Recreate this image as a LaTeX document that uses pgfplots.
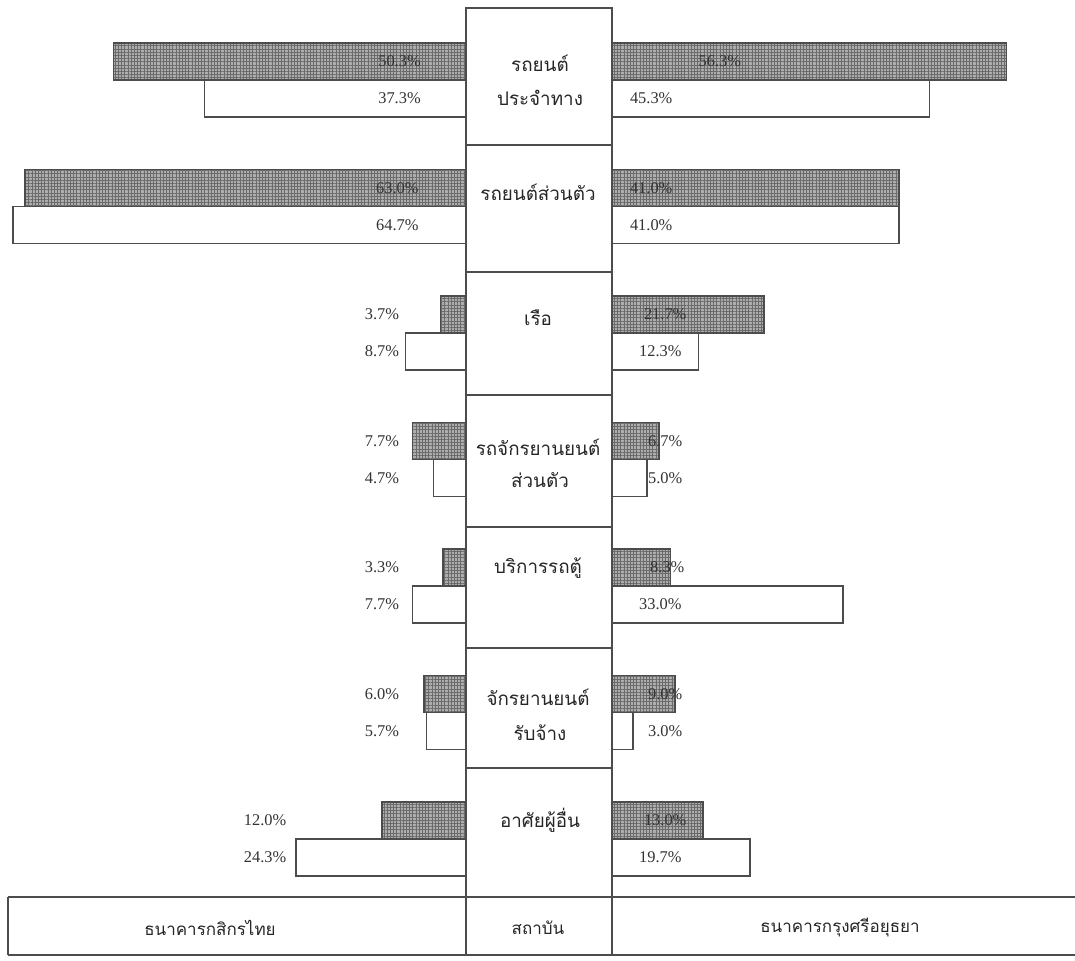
\documentclass[border=0pt]{standalone}
\usepackage{fontspec}
\setmainfont{Liberation Serif}
\newfontfamily\thaifont[Script=Thai]{Loma}
\usepackage{pgfplots}
\pgfplotsset{compat=1.18}
\usepackage{pgfplotstable}
\usetikzlibrary{patterns.meta}

% left institution (Kasikorn): s = shaded bar, w = white bar, lx = label position
\pgfplotstableread{
i s w lx
1 50.3 37.3 9.5
2 63.0 64.7 9.8
3 3.7 8.7 12
4 7.7 4.7 12
5 3.3 7.7 12
6 6.0 5.7 12
7 12.0 24.3 28.7
}\leftdata
% right institution (Krungsri)
\pgfplotstableread{
i s w lxs lxw
1 56.3 45.3 15.4 5.6
2 41.0 41.0 5.6 5.6
3 21.7 12.3 7.6 6.9
4 6.7 5.0 7.6 7.6
5 8.3 33.0 7.9 6.9
6 9.0 3.0 7.6 7.6
7 13.0 19.7 7.6 6.9
}\rightdata

\pgfplotsset{
  shaded/.style={xbar, bar width=0.2925, bar shift=-0.146, fill=black!32, draw=black!70, line width=0.6pt,
    postaction={pattern={Lines[angle=0,distance=1.6pt,line width=0.45pt]}, pattern color=black!58},
    postaction={pattern={Lines[angle=90,distance=1.6pt,line width=0.45pt]}, pattern color=black!58}},
  plain/.style={xbar, bar width=0.2925, bar shift=0.146, fill=white, draw=black!70, line width=0.6pt},
  lab/.style={draw=none, mark=none, point meta=explicit,
    nodes near coords={\pgfmathprintnumber[fixed,fixed zerofill,precision=1,assume math mode=true]{\pgfplotspointmeta}\%},
    every node near coord/.append style={anchor=center, font=\fontsize{8.2}{10}\selectfont, text=black!80, inner sep=0pt}},
  half/.style={scale only axis, height=480.5pt, y dir=reverse, ymin=0.3676, ymax=7.9644, hide axis, clip=false, xmin=0}
}

\begin{document}
\begin{tikzpicture}
\useasboundingbox (0pt,0pt) rectangle (537.5pt,-480.5pt);
\fill[white] (0pt,0pt) rectangle (537.5pt,-480.5pt);

\begin{axis}[half, at={(0pt,0pt)}, anchor=north west, width=233pt, xmax=66.571, x dir=reverse]
  \addplot[shaded] table[x=s, y=i] {\leftdata};
  \addplot[plain] table[x=w, y=i] {\leftdata};
  \addplot[lab] table[x=lx, y expr=\thisrow{i}-0.146, meta=s] {\leftdata};
  \addplot[lab] table[x=lx, y expr=\thisrow{i}+0.146, meta=w] {\leftdata};
\end{axis}

\begin{axis}[half, at={(306pt,0pt)}, anchor=north west, width=231.5pt, xmax=66.143]
  \addplot[shaded] table[x=s, y=i] {\rightdata};
  \addplot[plain] table[x=w, y=i] {\rightdata};
  \addplot[lab] table[x=lxs, y expr=\thisrow{i}-0.146, meta=s] {\rightdata};
  \addplot[lab] table[x=lxw, y expr=\thisrow{i}+0.146, meta=w] {\rightdata};
\end{axis}

% centre column and bottom row
\begin{scope}[draw=black!70, line width=0.6pt]
  \draw (233pt,-4pt) rectangle (306pt,-477.5pt);
  \foreach \yy in {72.5,136,197.5,263.5,324,384,448.5}
    \draw (233pt,-\yy pt) -- (306pt,-\yy pt);
  \draw (4pt,-448.5pt) -- (537.5pt,-448.5pt);
  \draw (4pt,-477.5pt) -- (537.5pt,-477.5pt);
  \draw (4pt,-448.5pt) -- (4pt,-477.5pt);
\end{scope}

\begin{scope}[every node/.style={font=\thaifont\fontsize{9.4}{11}\selectfont, text=black!85, inner sep=0pt}]
  \node at (270pt,-31.5pt) {รถยนต์};
  \node at (270pt,-49pt) {ประจำทาง};
  \node at (269pt,-96pt) {รถยนต์ส่วนตัว};
  \node at (269pt,-159pt) {เรือ};
  \node at (269pt,-223.5pt) {รถจักรยานยนต์};
  \node at (270pt,-240pt) {ส่วนตัว};
  \node at (269pt,-284pt) {บริการรถตู้};
  \node at (269pt,-348.5pt) {จักรยานยนต์};
  \node at (270pt,-366.5pt) {รับจ้าง};
  \node at (270pt,-410pt) {อาศัยผู้อื่น};
\end{scope}
\begin{scope}[every node/.style={font=\thaifont\fontsize{8.5}{10}\selectfont, text=black!85, inner sep=0pt}]
  \node at (105pt,-464pt) {ธนาคารกสิกรไทย};
  \node at (269pt,-464pt) {สถาบัน};
  \node at (420pt,-464pt) {ธนาคารกรุงศรีอยุธยา};
\end{scope}
\end{tikzpicture}
\end{document}
